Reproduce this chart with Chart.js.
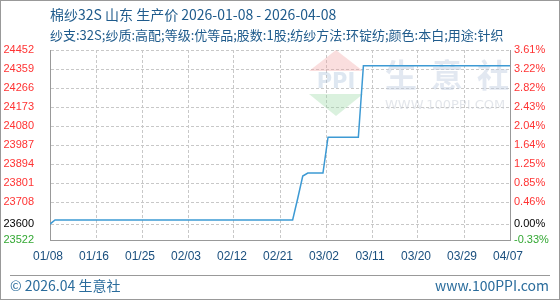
<!DOCTYPE html>
<html>
<head>
<meta charset="utf-8">
<script src="https://cdn.jsdelivr.net/npm/chart.js@4.4.1/dist/chart.umd.min.js"></script>
<style>
  html, body { margin: 0; padding: 0; background: #fff; }
  canvas { display: block; }
</style>
</head>
<body>
<canvas id="c" width="560" height="300"></canvas>
<script>
const titleText = '棉纱32S 山东 生产价 2026-01-08 - 2026-04-08';
const subtitleText = '纱支:32S;纱质:高配;等级:优等品;股数:1股;纺纱方法:环锭纺;颜色:本白;用途:针织';
const footerLeft = '© 2026.04 生意社';
const footerRight = 'www.100PPI.com';

// day index from 01/08 (0) to 04/08 (91)
const dateLabels = ['01/08', '01/16', '01/25', '02/03', '02/12', '02/21', '03/02', '03/11', '03/20', '03/29', '04/07'];
const dayIndex = [0, 1, 48, 49, 50, 51, 54, 55, 61, 62, 91];
const prices = [23600, 23620, 23620, 23725, 23835, 23850, 23850, 24025, 24025, 24375, 24375];
const lastDay = 91;

const basePrice = 23600;
const leftTicks = [23522, 23600, 23708, 23801, 23894, 23987, 24080, 24173, 24266, 24359, 24452];
const rightLabels = ['-0.33%', '0.00%', '0.46%', '0.85%', '1.25%', '1.64%', '2.04%', '2.43%', '2.82%', '3.22%', '3.61%'];

const tickColor = (i) => i === 0 ? '#33a833' : (i === 1 ? '#000000' : '#ff3333');
const blue = '#1f5b8c';

const decor = {
    id: 'decor',
    beforeDatasetsDraw(chart) {
        const ctx = chart.ctx;
        ctx.save();
        // watermark logo
        const cx = 336;
        ctx.fillStyle = 'rgba(240,160,160,0.35)';
        ctx.beginPath();
        ctx.moveTo(cx, 50); ctx.lineTo(cx + 27, 71); ctx.lineTo(cx - 27, 71); ctx.closePath();
        ctx.fill();
        ctx.fillStyle = 'rgba(160,185,215,0.35)';
        ctx.font = 'bold 21px "DejaVu Sans"';
        ctx.textAlign = 'center';
        ctx.textBaseline = 'middle';
        ctx.fillText('PPI', cx, 83);
        ctx.fillStyle = 'rgba(150,215,160,0.35)';
        ctx.beginPath();
        ctx.moveTo(cx - 27, 94); ctx.lineTo(cx + 27, 94); ctx.lineTo(cx, 116); ctx.closePath();
        ctx.fill();
        ctx.fillStyle = 'rgba(190,203,225,0.45)';
        ctx.font = 'bold 32px "Noto Sans CJK SC"';
        ctx.textAlign = 'left';
        ['生', '意', '社'].forEach((ch, i) => ctx.fillText(ch, 385 + i * 46, 75));
        ctx.fillStyle = 'rgba(200,205,215,0.5)';
        ctx.font = '13px "DejaVu Sans"';
        ctx.fillText('WWW.100PPI.COM', 385, 106);
        ctx.restore();
    },
    afterDraw(chart) {
        const ctx = chart.ctx;
        ctx.save();
        ctx.fillStyle = blue;
        ctx.textAlign = 'left';
        ctx.textBaseline = 'middle';
        ctx.font = '14px "Noto Sans CJK SC"';
        ctx.fillText(titleText, 50, 15);
        ctx.font = '13px "Noto Sans CJK SC"';
        ctx.fillText(subtitleText, 50, 35);
        ctx.strokeStyle = '#999';
        ctx.lineWidth = 1;
        ctx.beginPath();
        ctx.moveTo(10, 275.5); ctx.lineTo(550, 275.5);
        ctx.stroke();
        ctx.fillStyle = '#2a6c9c';
        ctx.font = '14px "Noto Sans CJK SC"';
        ctx.fillText(footerLeft, 10, 286);
        ctx.textAlign = 'right';
        ctx.fillText(footerRight, 549, 286);
        ctx.strokeStyle = '#999';
        ctx.strokeRect(0.5, 0.5, 559, 299);
        ctx.restore();
    }
};

new Chart(document.getElementById('c'), {
    type: 'line',
    data: {
        datasets: [{
            data: dayIndex.map((d, i) => ({ x: d, y: prices[i] })),
            borderColor: '#3d9ad4',
            borderWidth: 1.5,
            pointRadius: 0,
            tension: 0,
            fill: false
        }]
    },
    options: {
        responsive: false,
        animation: false,
        layout: { padding: { top: 50, bottom: 0, left: 0, right: 0 } },
        plugins: { legend: { display: false }, tooltip: { enabled: false } },
        scales: {
            x: {
                type: 'linear',
                min: 0,
                max: lastDay,
                afterBuildTicks: (scale) => {
                    scale.ticks = dateLabels.map((_, i) => ({ value: i * lastDay / (dateLabels.length - 1) }));
                },
                afterFit: (scale) => { scale.height = 60; },
                ticks: {
                    autoSkip: false,
                    maxRotation: 0,
                    padding: 9,
                    labelOffset: -2,
                    color: '#1a4f7e',
                    font: { family: 'Liberation Sans', size: 12 },
                    callback: (v, i) => dateLabels[i]
                },
                grid: { color: '#c8c8c8', drawTicks: false },
                border: { display: true, color: '#999', dash: [3, 2] }
            },
            y: {
                position: 'left',
                min: leftTicks[0],
                max: leftTicks[leftTicks.length - 1],
                afterBuildTicks: (scale) => { scale.ticks = leftTicks.map(v => ({ value: v })); },
                afterFit: (scale) => { scale.width = 50; },
                ticks: {
                    autoSkip: false,
                    padding: 16,
                    color: (c) => tickColor(c.index),
                    font: { family: 'Liberation Sans', size: 11 },
                    callback: (v) => String(v)
                },
                grid: { color: '#c8c8c8', drawTicks: false },
                border: { display: true, color: '#999', dash: [3, 2] }
            },
            y1: {
                position: 'right',
                min: leftTicks[0],
                max: leftTicks[leftTicks.length - 1],
                afterBuildTicks: (scale) => { scale.ticks = leftTicks.map(v => ({ value: v })); },
                afterFit: (scale) => { scale.width = 50; },
                ticks: {
                    autoSkip: false,
                    padding: 4,
                    color: (c) => tickColor(c.index),
                    font: { family: 'Liberation Sans', size: 11 },
                    callback: (v, i) => rightLabels[i]
                },
                grid: { drawOnChartArea: false, drawTicks: false },
                border: { display: true, color: '#999' }
            }
        }
    },
    plugins: [decor]
});
</script>
</body>
</html>
